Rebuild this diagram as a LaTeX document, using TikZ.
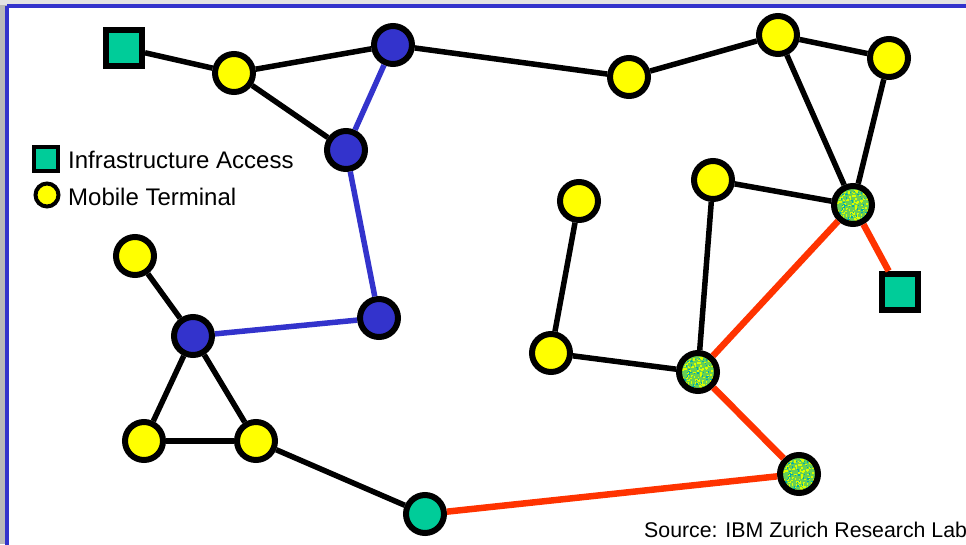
\documentclass[tikz,border=0pt]{standalone}
\usepackage{fontspec}
\setmainfont{Liberation Sans}
\usetikzlibrary{calc}
\definecolor{frameblue}{HTML}{3333CC}
\definecolor{nodeblue}{HTML}{3333CC}
\definecolor{teal2}{HTML}{00CC99}
\definecolor{yel}{HTML}{FFFF00}
\definecolor{redl}{HTML}{FF3300}
\definecolor{speckbase}{HTML}{66D055}
\begin{document}
\begin{tikzpicture}[x=1pt,y=-1pt,
  mob/.style={circle,draw=black,line width=6pt,fill=yel,minimum size=38pt,inner sep=0pt},
  relay/.style={circle,draw=black,line width=6pt,fill=nodeblue,minimum size=38pt,inner sep=0pt},
  acc/.style={circle,draw=black,line width=6pt,fill=teal2,minimum size=38pt,inner sep=0pt},
  infra/.style={rectangle,draw=black,line width=6pt,fill=teal2,minimum size=36pt,inner sep=0pt},
  speck/.style={circle,draw=black,line width=6pt,minimum size=38pt,inner sep=0pt,
    path picture={
      \fill[speckbase] (path picture bounding box.south west) rectangle (path picture bounding box.north east);
      \pgfmathsetseed{7}
      \foreach \i in {1,...,220}{
        \fill[yel!85!green] ($(path picture bounding box.center)+(rand*20pt,rand*20pt)$) rectangle +(1.6pt,1.6pt);
      }
      \foreach \i in {1,...,80}{
        \fill[teal2!85!blue] ($(path picture bounding box.center)+(rand*20pt,rand*20pt)$) rectangle +(1.4pt,1.4pt);
      }
    }},
  blk/.style={line width=5.5pt,draw=black},
  blu/.style={line width=5.5pt,draw=nodeblue},
  rd/.style={line width=6.5pt,draw=redl},
  lbl/.style={font=\fontsize{24}{28}\selectfont,anchor=west,inner sep=0pt}
]
\useasboundingbox (0,0) rectangle (966,544);
% background
\fill[gray!55] (0,0) rectangle (966,544);
\fill[gray!22] (0,0) rectangle (966,5);
\fill[white] (7,6) rectangle (980,560);
\draw[frameblue,line width=4pt] (7,6) -- (980,6);
\draw[frameblue,line width=4pt] (7,6) -- (7,560);

% nodes
\node[infra] (sqa) at (124,48) {};
\node[mob] (y1) at (234,73) {};
\node[relay] (b1) at (393,45) {};
\node[relay] (b2) at (346,150) {};
\node[mob] (y2) at (629,77) {};
\node[mob] (y3) at (778,35) {};
\node[mob] (y4) at (889,58) {};
\node[mob] (y5) at (713,180) {};
\node[speck] (g1) at (853,205) {};
\node[infra] (sqb) at (900,292) {};
\node[mob] (y6) at (579,201) {};
\node[mob] (y7) at (135,256) {};
\node[relay] (b3) at (193,336) {};
\node[relay] (b4) at (379,318) {};
\node[mob] (y8) at (551,353) {};
\node[speck] (g2) at (698,372) {};
\node[mob] (y9) at (144,441) {};
\node[mob] (y10) at (256,441) {};
\node[acc] (t1) at (425,514) {};
\node[speck] (g3) at (799,474) {};

% edges
\draw[blk] (sqa) -- (y1);
\draw[blk] (y1) -- (b1);
\draw[blk] (y1) -- (b2);
\draw[blk] (b1) -- (y2);
\draw[blk] (y2) -- (y3);
\draw[blk] (y3) -- (y4);
\draw[blk] (y3) -- (g1);
\draw[blk] (y4) -- (g1);
\draw[blk] (y5) -- (g1);
\draw[blk] (y5) -- (g2);
\draw[blk] (y6) -- (y8);
\draw[blk] (y8) -- (g2);
\draw[blk] (y7) -- (b3);
\draw[blk] (b3) -- (y9);
\draw[blk] (b3) -- (y10);
\draw[blk] (y9) -- (y10);
\draw[blk] (y10) -- (t1);
\draw[blu] (b1) -- (b2);
\draw[blu] (b2) -- (b4);
\draw[blu] (b3) -- (b4);
\draw[rd] (g1) -- (g2);
\draw[rd] (g1) -- (sqb);
\draw[rd] (g2) -- (g3);
\draw[rd] (t1) -- (g3);

% legend
\node[rectangle,draw=black,line width=4pt,fill=teal2,minimum size=24pt,inner sep=0pt] (lsq) at (46,159) {};
\node[circle,draw=black,line width=4pt,fill=yel,minimum size=23pt,inner sep=0pt] (lci) at (47,195) {};
\node[lbl] (ltx1) at (68,160) {Infrastructure Access};
\node[lbl] (ltx2) at (68,197) {Mobile Terminal};

% source
\node[font=\fontsize{21.3}{25}\selectfont,anchor=base west,inner sep=0pt] (src) at (644,537) {Source: IBM Zurich Research Lab};
\end{tikzpicture}
\end{document}
